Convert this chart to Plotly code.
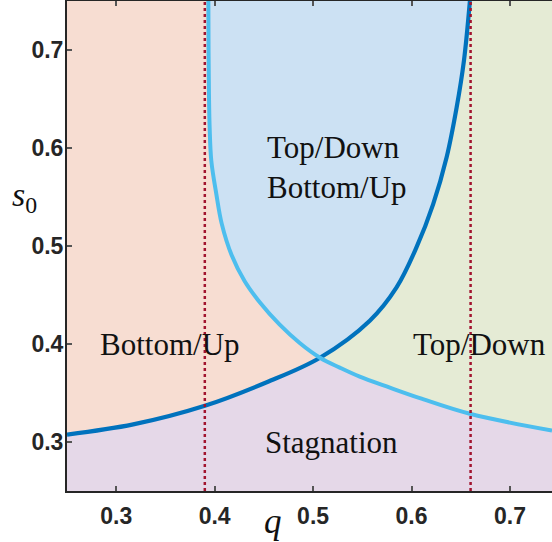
import plotly.graph_objects as go

# Boundary curves in the (q, s0) plane; both pass through the crossing point (0.507, 0.386)
blue_q = [0.250, 0.3173, 0.390, 0.4529, 0.507, 0.5576, 0.5848, 0.605, 0.622, 0.6356, 0.6458, 0.6532, 0.6593]
blue_s = [0.3076, 0.318, 0.337, 0.361, 0.386, 0.4238, 0.4578, 0.4985, 0.5428, 0.5903, 0.6412, 0.6888, 0.750]

cyan_q = [0.3936, 0.3938, 0.3942, 0.3949, 0.3966, 0.4017, 0.4071, 0.4173, 0.4305, 0.4458, 0.4661, 0.4864,
          0.507, 0.5271, 0.5474, 0.5780, 0.6085, 0.6593, 0.7427]
cyan_s = [0.750, 0.699, 0.6552, 0.6208, 0.5869, 0.553, 0.5231, 0.4905, 0.464, 0.4426, 0.4197, 0.401,
          0.386, 0.3759, 0.3667, 0.3555, 0.3448, 0.3288, 0.3117]

cross_q = 0.507
threshold_q = [0.39, 0.66]

x_range = [0.25, 0.7427]
y_range = [0.25, 0.75]
x_ticks = [0.3, 0.4, 0.5, 0.6, 0.7]
y_ticks = [0.3, 0.4, 0.5, 0.6, 0.7]

region_labels = [
    ("Bottom/Up", 0.355, 0.400, "center"),
    ("Top/Down", 0.6695, 0.400, "center"),
    ("Stagnation", 0.519, 0.300, "center"),
    ("Top/Down", 0.4508, 0.601, "left"),
    ("Bottom/Up", 0.4508, 0.560, "left"),
]

C_BLUE = "#0072bd"
C_CYAN = "#4dbeee"
C_DOT = "#a2142f"
F_BU = "rgb(247,221,210)"
F_BOTH = "rgb(204,225,243)"
F_TD = "rgb(229,235,213)"
F_STAG = "rgb(229,216,232)"

bi = blue_q.index(cross_q)
ci = cyan_q.index(cross_q)
x0, x1 = x_range
y0, y1 = y_range

fig = go.Figure()

def poly(xs, ys, color):
    fig.add_trace(go.Scatter(x=xs, y=ys, fill="toself", fillcolor=color, mode="none",
                             hoverinfo="skip", showlegend=False))

# Bottom/Up region: left of the cyan branch, above the blue branch
poly([x0] + cyan_q[:ci + 1] + blue_q[:bi][::-1] + [x0],
     [y1] + cyan_s[:ci + 1] + blue_s[:bi][::-1] + [y1], F_BU)
# Both mechanisms: between the upper branches
poly(cyan_q[:ci + 1] + blue_q[bi + 1:],
     cyan_s[:ci + 1] + blue_s[bi + 1:], F_BOTH)
# Top/Down region: right of the blue branch, above the cyan branch
poly(blue_q[bi:] + [x1] + cyan_q[ci:][::-1],
     blue_s[bi:] + [y1] + cyan_s[ci:][::-1], F_TD)

fig.add_trace(go.Scatter(x=blue_q, y=blue_s, mode="lines", line=dict(color=C_BLUE, width=4.2),
                         line_shape="spline", hoverinfo="skip", showlegend=False))
fig.add_trace(go.Scatter(x=cyan_q, y=cyan_s, mode="lines", line=dict(color=C_CYAN, width=4),
                         line_shape="spline", hoverinfo="skip", showlegend=False))
for q in threshold_q:
    fig.add_trace(go.Scatter(x=[q, q], y=[y0, y1], mode="lines",
                             line=dict(color=C_DOT, width=2.5, dash="dot"),
                             hoverinfo="skip", showlegend=False))

for text, qx, sy, anchor in region_labels:
    fig.add_annotation(x=qx, y=sy, xref="x", yref="y", text=text, showarrow=False,
                       xanchor=anchor, yanchor="middle",
                       font=dict(family="Liberation Serif", size=31, color="#111111"))

fig.add_annotation(x=0.425, y=-0.062, xref="paper", yref="paper", text="<i>q</i>", showarrow=False,
                   xanchor="center", yanchor="middle",
                   font=dict(family="Liberation Serif", size=35, color="#111111"))
fig.add_annotation(x=-0.088, y=0.60, xref="paper", yref="paper", text="<i>s</i><sub>0</sub>",
                   showarrow=False, xanchor="center", yanchor="middle",
                   font=dict(family="Liberation Serif", size=34, color="#111111"))

axis_common = dict(showgrid=False, zeroline=False, showline=True, linecolor="#262626", linewidth=2,
                   ticks="inside", ticklen=5, tickwidth=1.5, tickcolor="#555555",
                   tickformat=".1f",
                   tickfont=dict(family="Liberation Sans", size=23, color="#262626", weight="bold"))

fig.update_xaxes(range=x_range, tickvals=x_ticks, mirror="ticks", ticklabelstandoff=3, **axis_common)
fig.update_yaxes(range=y_range, tickvals=y_ticks, mirror=False, ticklabelstandoff=-3, **axis_common)

fig.update_layout(width=552, height=542, margin=dict(l=67, r=0, t=1, b=51),
                  plot_bgcolor=F_STAG, paper_bgcolor="white")

fig.write_html("out.html")
